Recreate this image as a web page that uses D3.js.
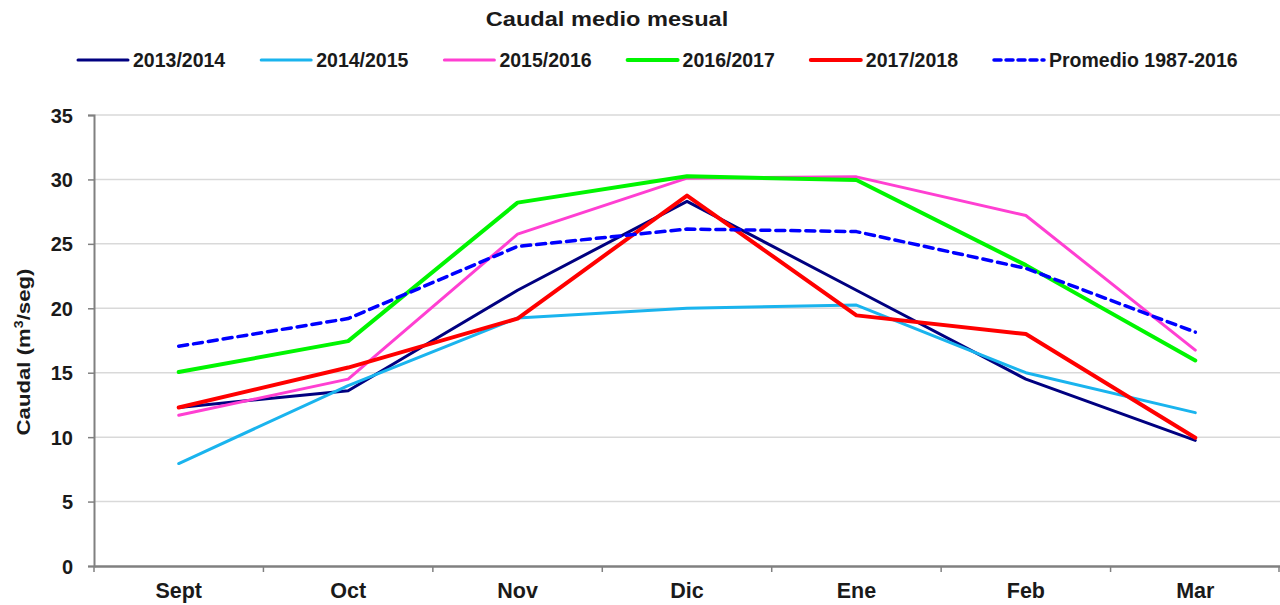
<!DOCTYPE html>
<html>
<head>
<meta charset="utf-8">
<script src="https://cdn.jsdelivr.net/npm/d3@7"></script>
<style>
  body { margin: 0; background: #fff; }
  text { font-family: "Liberation Sans", Arial, sans-serif; font-weight: bold; fill: #1a1a1a; }
</style>
</head>
<body>
<div id="chart"></div>
<script>
const months = ["Sept", "Oct", "Nov", "Dic", "Ene", "Feb", "Mar"];
const yTicks = [0, 5, 10, 15, 20, 25, 30, 35];

const s2013 = [12.3, 13.6, 21.4, 28.3, 21.4, 14.5, 9.75];
const s2014 = [7.95, 14.0, 19.25, 20.0, 20.25, 15.0, 11.9];
const s2015 = [11.7, 14.5, 25.75, 30.1, 30.2, 27.2, 16.75];
const s2016 = [15.05, 17.45, 28.2, 30.25, 29.95, 23.35, 15.95];
const s2017 = [12.3, 15.4, 19.2, 28.75, 19.45, 18.0, 9.95];
const promedio = [17.05, 19.2, 24.8, 26.15, 25.95, 23.1, 18.15];

const seriesNames = ["2013/2014", "2014/2015", "2015/2016", "2016/2017", "2017/2018", "Promedio 1987-2016"];
const seriesColors = ["#000080", "#1ab4ee", "#ff3fd2", "#00f500", "#ff0000", "#0000ff"];
const seriesWidths = [3, 3, 3, 4, 4, 3.5];
const seriesValues = [s2013, s2014, s2015, s2016, s2017, promedio];

const W = 1280, H = 605;
const margin = { left: 94, right: 0, top: 115, bottom: 39 };
const innerW = W - margin.left - margin.right;
const innerH = H - margin.top - margin.bottom;

const svg = d3.select('#chart').append('svg')
    .attr('width', W)
    .attr('height', H);

const x = d3.scaleBand().domain(months).range([margin.left, margin.left + innerW]);
const y = d3.scaleLinear().domain([0, 35]).range([margin.top + innerH, margin.top]);

function addText(g, tx, ty, str, size, anchor, stretch) {
    return g.append('text')
        .attr('transform', `translate(${tx},${ty}) scale(${stretch || 1},1)`)
        .attr('font-size', size + 'px')
        .attr('text-anchor', anchor)
        .text(str);
}

// grid
svg.append('g')
    .selectAll('line')
    .data(yTicks.filter(d => d > 0))
    .enter()
    .append('line')
    .attr('x1', margin.left)
    .attr('x2', W)
    .attr('y1', d => y(d))
    .attr('y2', d => y(d))
    .attr('stroke', '#d9d9d9')
    .attr('stroke-width', 1.5);

// y axis
const yAxis = svg.append('g')
    .attr('transform', `translate(${margin.left},0)`)
    .call(d3.axisLeft(y).tickValues(yTicks).tickSize(6).tickFormat(''));
yAxis.select('.domain').attr('stroke', '#808080').attr('stroke-width', 2);
yAxis.selectAll('.tick line').attr('stroke', '#808080').attr('stroke-width', 1.5);
yTicks.forEach(t => addText(svg, 73, y(t) + 7.5, String(t), 20, 'end'));

// x axis
const bottom = margin.top + innerH;
const xAxis = svg.append('g')
    .attr('transform', `translate(0,${bottom})`)
    .call(d3.axisBottom(x).tickSize(0).tickFormat(''));
xAxis.select('.domain').attr('stroke', '#808080').attr('stroke-width', 2.5);
svg.append('g')
    .selectAll('line')
    .data(months.map(m => x(m)).concat([margin.left + innerW - 1]))
    .enter()
    .append('line')
    .attr('x1', d => d)
    .attr('x2', d => d)
    .attr('y1', bottom)
    .attr('y2', bottom + 6)
    .attr('stroke', '#808080')
    .attr('stroke-width', 1.5);
months.forEach(m => addText(svg, x(m) + x.bandwidth() / 2, 598, m, 21.5, 'middle'));

// y label
const yl = svg.append('text')
    .attr('transform', `translate(30,352) rotate(-90) scale(1.17,1)`)
    .attr('font-size', '19px')
    .attr('text-anchor', 'middle');
yl.append('tspan').text('Caudal (m');
yl.append('tspan').text('3').attr('font-size', '12px').attr('dy', -7);
yl.append('tspan').text('/seg)').attr('dy', 7);

// lines
const line = d3.line()
    .x((d, i) => x(months[i]) + x.bandwidth() / 2)
    .y(d => y(d));

svg.append('g')
    .selectAll('path')
    .data(seriesValues)
    .enter()
    .append('path')
    .attr('d', d => line(d))
    .attr('fill', 'none')
    .attr('stroke', (d, i) => seriesColors[i])
    .attr('stroke-width', (d, i) => seriesWidths[i])
    .attr('stroke-linejoin', 'round')
    .attr('stroke-linecap', 'round')
    .attr('stroke-dasharray', (d, i) => i === 5 ? '9,6' : null);

// title
addText(svg, 607, 26, 'Caudal medio mesual', 20, 'middle', 1.18);

// legend
const legend = svg.append('g');
seriesNames.forEach((name, i) => {
    const lx = 78 + i * 183.2;
    legend.append('line')
        .attr('x1', lx)
        .attr('x2', lx + 50)
        .attr('y1', 60)
        .attr('y2', 60)
        .attr('stroke', seriesColors[i])
        .attr('stroke-width', seriesWidths[i])
        .attr('stroke-linecap', 'round')
        .attr('stroke-dasharray', i === 5 ? '7,5' : null);
    addText(legend, lx + 55, 67, name, 19.5, 'start');
});
</script>
</body>
</html>
